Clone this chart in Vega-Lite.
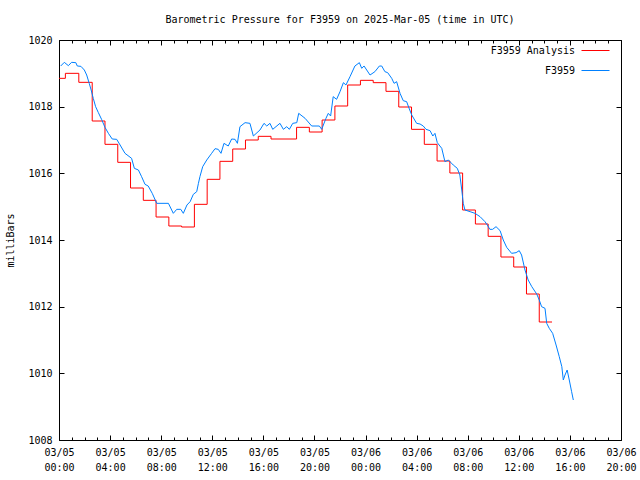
{
 "$schema": "https://vega.github.io/schema/vega-lite/v6.json",
 "width": 562,
 "height": 400,
 "autosize": {"type": "none"},
 "padding": {"left": 59, "top": 40, "right": 19, "bottom": 40},
 "background": "white",
 "title": {"text": "Barometric Pressure for F3959 on 2025-Mar-05 (time in UTC)", "font": "DejaVu Sans Mono", "fontSize": 10, "fontWeight": "normal", "color": "black", "anchor": "middle", "baseline": "bottom", "offset": 0},
 "config": {"view": {"stroke": "black", "strokeWidth": 1}, "font": "DejaVu Sans Mono"},
 "datasets": {
  "analysis": [
   {"t": "2025-03-05T00:00:00Z", "mb": 1018.85},
   {"t": "2025-03-05T00:30:00Z", "mb": 1019.0},
   {"t": "2025-03-05T01:33:00Z", "mb": 1018.73},
   {"t": "2025-03-05T02:36:00Z", "mb": 1017.57},
   {"t": "2025-03-05T03:36:00Z", "mb": 1016.87},
   {"t": "2025-03-05T04:36:00Z", "mb": 1016.33},
   {"t": "2025-03-05T05:36:00Z", "mb": 1015.56},
   {"t": "2025-03-05T06:36:00Z", "mb": 1015.19},
   {"t": "2025-03-05T07:36:00Z", "mb": 1014.69},
   {"t": "2025-03-05T08:36:00Z", "mb": 1014.42},
   {"t": "2025-03-05T09:36:00Z", "mb": 1014.39},
   {"t": "2025-03-05T10:36:00Z", "mb": 1015.07},
   {"t": "2025-03-05T11:36:00Z", "mb": 1015.82},
   {"t": "2025-03-05T12:36:00Z", "mb": 1016.36},
   {"t": "2025-03-05T13:36:00Z", "mb": 1016.73},
   {"t": "2025-03-05T14:36:00Z", "mb": 1017.0},
   {"t": "2025-03-05T15:36:00Z", "mb": 1017.11},
   {"t": "2025-03-05T16:36:00Z", "mb": 1017.03},
   {"t": "2025-03-05T18:36:00Z", "mb": 1017.38},
   {"t": "2025-03-05T19:36:00Z", "mb": 1017.24},
   {"t": "2025-03-05T20:36:00Z", "mb": 1017.6},
   {"t": "2025-03-05T21:36:00Z", "mb": 1018.02},
   {"t": "2025-03-05T22:36:00Z", "mb": 1018.65},
   {"t": "2025-03-05T23:36:00Z", "mb": 1018.79},
   {"t": "2025-03-06T00:36:00Z", "mb": 1018.72},
   {"t": "2025-03-06T01:36:00Z", "mb": 1018.46},
   {"t": "2025-03-06T02:36:00Z", "mb": 1017.99},
   {"t": "2025-03-06T03:36:00Z", "mb": 1017.32},
   {"t": "2025-03-06T04:36:00Z", "mb": 1016.87},
   {"t": "2025-03-06T05:36:00Z", "mb": 1016.37},
   {"t": "2025-03-06T06:36:00Z", "mb": 1016.01},
   {"t": "2025-03-06T07:36:00Z", "mb": 1014.9},
   {"t": "2025-03-06T08:36:00Z", "mb": 1014.48},
   {"t": "2025-03-06T09:36:00Z", "mb": 1014.11},
   {"t": "2025-03-06T10:36:00Z", "mb": 1013.49},
   {"t": "2025-03-06T11:36:00Z", "mb": 1013.19},
   {"t": "2025-03-06T12:36:00Z", "mb": 1012.38},
   {"t": "2025-03-06T13:36:00Z", "mb": 1011.54},
   {"t": "2025-03-06T14:36:00Z", "mb": 1011.54}
  ],
  "obs": [
   {"t": "2025-03-05T00:08:00Z", "mb": 1019.22},
   {"t": "2025-03-05T00:25:00Z", "mb": 1019.33},
   {"t": "2025-03-05T00:44:00Z", "mb": 1019.23},
   {"t": "2025-03-05T00:59:00Z", "mb": 1019.33},
   {"t": "2025-03-05T01:19:00Z", "mb": 1019.32},
   {"t": "2025-03-05T01:26:00Z", "mb": 1019.22},
   {"t": "2025-03-05T01:43:00Z", "mb": 1019.21},
   {"t": "2025-03-05T01:59:00Z", "mb": 1019.1},
   {"t": "2025-03-05T02:10:00Z", "mb": 1018.95},
   {"t": "2025-03-05T02:22:00Z", "mb": 1018.7},
   {"t": "2025-03-05T02:31:00Z", "mb": 1018.5},
   {"t": "2025-03-05T02:41:00Z", "mb": 1018.25},
   {"t": "2025-03-05T02:52:00Z", "mb": 1018.0},
   {"t": "2025-03-05T03:05:00Z", "mb": 1017.82},
   {"t": "2025-03-05T03:20:00Z", "mb": 1017.62},
   {"t": "2025-03-05T03:36:00Z", "mb": 1017.38},
   {"t": "2025-03-05T03:52:00Z", "mb": 1017.2},
   {"t": "2025-03-05T04:10:00Z", "mb": 1017.03},
   {"t": "2025-03-05T04:31:00Z", "mb": 1017.02},
   {"t": "2025-03-05T04:47:00Z", "mb": 1016.85},
   {"t": "2025-03-05T05:10:00Z", "mb": 1016.6},
   {"t": "2025-03-05T05:41:00Z", "mb": 1016.45},
   {"t": "2025-03-05T05:54:00Z", "mb": 1016.15},
   {"t": "2025-03-05T06:13:00Z", "mb": 1016.1},
   {"t": "2025-03-05T06:28:00Z", "mb": 1015.9},
   {"t": "2025-03-05T06:44:00Z", "mb": 1015.67},
   {"t": "2025-03-05T06:59:00Z", "mb": 1015.62},
   {"t": "2025-03-05T07:18:00Z", "mb": 1015.4},
   {"t": "2025-03-05T07:39:00Z", "mb": 1015.1},
   {"t": "2025-03-05T08:34:00Z", "mb": 1015.1},
   {"t": "2025-03-05T08:57:00Z", "mb": 1014.8},
   {"t": "2025-03-05T09:13:00Z", "mb": 1014.92},
   {"t": "2025-03-05T09:32:00Z", "mb": 1014.92},
   {"t": "2025-03-05T09:44:00Z", "mb": 1014.8},
   {"t": "2025-03-05T10:01:00Z", "mb": 1015.05},
   {"t": "2025-03-05T10:16:00Z", "mb": 1015.15},
   {"t": "2025-03-05T10:31:00Z", "mb": 1015.37},
   {"t": "2025-03-05T10:47:00Z", "mb": 1015.45},
   {"t": "2025-03-05T10:55:00Z", "mb": 1015.7},
   {"t": "2025-03-05T11:02:00Z", "mb": 1015.9},
   {"t": "2025-03-05T11:15:00Z", "mb": 1016.2},
   {"t": "2025-03-05T11:34:00Z", "mb": 1016.4},
   {"t": "2025-03-05T11:57:00Z", "mb": 1016.6},
   {"t": "2025-03-05T12:13:00Z", "mb": 1016.74},
   {"t": "2025-03-05T12:28:00Z", "mb": 1016.72},
   {"t": "2025-03-05T12:41:00Z", "mb": 1016.6},
   {"t": "2025-03-05T12:55:00Z", "mb": 1016.9},
   {"t": "2025-03-05T13:15:00Z", "mb": 1016.82},
   {"t": "2025-03-05T13:31:00Z", "mb": 1017.03},
   {"t": "2025-03-05T13:47:00Z", "mb": 1017.02},
   {"t": "2025-03-05T13:58:00Z", "mb": 1016.9},
   {"t": "2025-03-05T14:10:00Z", "mb": 1017.4},
   {"t": "2025-03-05T14:34:00Z", "mb": 1017.52},
   {"t": "2025-03-05T14:57:00Z", "mb": 1017.5},
   {"t": "2025-03-05T15:13:00Z", "mb": 1017.12},
   {"t": "2025-03-05T15:44:00Z", "mb": 1017.3},
   {"t": "2025-03-05T16:03:00Z", "mb": 1017.5},
   {"t": "2025-03-05T16:16:00Z", "mb": 1017.42},
   {"t": "2025-03-05T16:31:00Z", "mb": 1017.5},
   {"t": "2025-03-05T16:44:00Z", "mb": 1017.32},
   {"t": "2025-03-05T17:18:00Z", "mb": 1017.5},
   {"t": "2025-03-05T17:34:00Z", "mb": 1017.32},
   {"t": "2025-03-05T17:50:00Z", "mb": 1017.4},
   {"t": "2025-03-05T18:02:00Z", "mb": 1017.32},
   {"t": "2025-03-05T18:18:00Z", "mb": 1017.5},
   {"t": "2025-03-05T18:37:00Z", "mb": 1017.52},
   {"t": "2025-03-05T18:46:00Z", "mb": 1017.8},
   {"t": "2025-03-05T19:16:00Z", "mb": 1017.65},
   {"t": "2025-03-05T19:47:00Z", "mb": 1017.42},
   {"t": "2025-03-05T20:23:00Z", "mb": 1017.42},
   {"t": "2025-03-05T20:34:00Z", "mb": 1017.32},
   {"t": "2025-03-05T20:54:00Z", "mb": 1017.65},
   {"t": "2025-03-05T21:05:00Z", "mb": 1017.8},
   {"t": "2025-03-05T21:16:00Z", "mb": 1017.72},
   {"t": "2025-03-05T21:28:00Z", "mb": 1018.3},
   {"t": "2025-03-05T21:44:00Z", "mb": 1018.22},
   {"t": "2025-03-05T22:00:00Z", "mb": 1018.45},
   {"t": "2025-03-05T22:16:00Z", "mb": 1018.72},
   {"t": "2025-03-05T22:28:00Z", "mb": 1018.65},
   {"t": "2025-03-05T22:47:00Z", "mb": 1018.9},
   {"t": "2025-03-05T23:10:00Z", "mb": 1019.22},
   {"t": "2025-03-05T23:31:00Z", "mb": 1019.32},
   {"t": "2025-03-05T23:42:00Z", "mb": 1019.15},
   {"t": "2025-03-05T23:53:00Z", "mb": 1019.22},
   {"t": "2025-03-06T00:21:00Z", "mb": 1018.95},
   {"t": "2025-03-06T00:44:00Z", "mb": 1019.05},
   {"t": "2025-03-06T01:05:00Z", "mb": 1019.22},
   {"t": "2025-03-06T01:16:00Z", "mb": 1019.22},
   {"t": "2025-03-06T01:31:00Z", "mb": 1019.05},
   {"t": "2025-03-06T01:44:00Z", "mb": 1019.02},
   {"t": "2025-03-06T02:03:00Z", "mb": 1018.85},
   {"t": "2025-03-06T02:14:00Z", "mb": 1018.7},
   {"t": "2025-03-06T02:26:00Z", "mb": 1018.75},
   {"t": "2025-03-06T02:42:00Z", "mb": 1018.4},
   {"t": "2025-03-06T02:57:00Z", "mb": 1018.18},
   {"t": "2025-03-06T03:13:00Z", "mb": 1018.15},
   {"t": "2025-03-06T03:24:00Z", "mb": 1017.96},
   {"t": "2025-03-06T03:37:00Z", "mb": 1017.75},
   {"t": "2025-03-06T04:00:00Z", "mb": 1017.5},
   {"t": "2025-03-06T04:16:00Z", "mb": 1017.48},
   {"t": "2025-03-06T04:31:00Z", "mb": 1017.42},
   {"t": "2025-03-06T04:44:00Z", "mb": 1017.32},
   {"t": "2025-03-06T05:03:00Z", "mb": 1017.28},
   {"t": "2025-03-06T05:16:00Z", "mb": 1017.12},
   {"t": "2025-03-06T05:26:00Z", "mb": 1017.2},
   {"t": "2025-03-06T05:37:00Z", "mb": 1016.92},
   {"t": "2025-03-06T05:58:00Z", "mb": 1016.75},
   {"t": "2025-03-06T06:13:00Z", "mb": 1016.35},
   {"t": "2025-03-06T06:29:00Z", "mb": 1016.4},
   {"t": "2025-03-06T06:52:00Z", "mb": 1016.25},
   {"t": "2025-03-06T07:11:00Z", "mb": 1016.15},
   {"t": "2025-03-06T07:23:00Z", "mb": 1015.95},
   {"t": "2025-03-06T07:32:00Z", "mb": 1015.5},
   {"t": "2025-03-06T07:39:00Z", "mb": 1015.1},
   {"t": "2025-03-06T07:47:00Z", "mb": 1014.9},
   {"t": "2025-03-06T08:11:00Z", "mb": 1014.85},
   {"t": "2025-03-06T08:34:00Z", "mb": 1014.8},
   {"t": "2025-03-06T08:58:00Z", "mb": 1014.7},
   {"t": "2025-03-06T09:21:00Z", "mb": 1014.55},
   {"t": "2025-03-06T09:32:00Z", "mb": 1014.45},
   {"t": "2025-03-06T09:44:00Z", "mb": 1014.32},
   {"t": "2025-03-06T09:57:00Z", "mb": 1014.32},
   {"t": "2025-03-06T10:13:00Z", "mb": 1014.4},
   {"t": "2025-03-06T10:32:00Z", "mb": 1014.28},
   {"t": "2025-03-06T10:47:00Z", "mb": 1014.0},
   {"t": "2025-03-06T11:03:00Z", "mb": 1013.78},
   {"t": "2025-03-06T11:26:00Z", "mb": 1013.6},
   {"t": "2025-03-06T11:47:00Z", "mb": 1013.62},
   {"t": "2025-03-06T12:02:00Z", "mb": 1013.68},
   {"t": "2025-03-06T12:13:00Z", "mb": 1013.55},
   {"t": "2025-03-06T12:29:00Z", "mb": 1013.1},
   {"t": "2025-03-06T12:44:00Z", "mb": 1012.8},
   {"t": "2025-03-06T13:01:00Z", "mb": 1012.6},
   {"t": "2025-03-06T13:24:00Z", "mb": 1012.38},
   {"t": "2025-03-06T13:36:00Z", "mb": 1012.2},
   {"t": "2025-03-06T13:47:00Z", "mb": 1012.0},
   {"t": "2025-03-06T14:03:00Z", "mb": 1011.95},
   {"t": "2025-03-06T14:11:00Z", "mb": 1011.5},
   {"t": "2025-03-06T14:23:00Z", "mb": 1011.35},
   {"t": "2025-03-06T14:39:00Z", "mb": 1011.2},
   {"t": "2025-03-06T14:55:00Z", "mb": 1010.85},
   {"t": "2025-03-06T15:10:00Z", "mb": 1010.5},
   {"t": "2025-03-06T15:22:00Z", "mb": 1010.2},
   {"t": "2025-03-06T15:29:00Z", "mb": 1009.8},
   {"t": "2025-03-06T15:37:00Z", "mb": 1009.95},
   {"t": "2025-03-06T15:47:00Z", "mb": 1010.1},
   {"t": "2025-03-06T15:57:00Z", "mb": 1009.8},
   {"t": "2025-03-06T16:08:00Z", "mb": 1009.45},
   {"t": "2025-03-06T16:16:00Z", "mb": 1009.2}
  ]
 },
 "layer": [
  {
   "data": {"name": "analysis"},
   "mark": {"type": "line", "interpolate": "step-after", "strokeWidth": 1},
   "encoding": {
    "x": {"field": "t", "type": "temporal",
     "scale": {"type": "utc", "domain": [1741132800000, 1741291200000]},
     "axis": {"orient": "bottom", "title": null, "domain": false, "grid": false,
      "values": [1741132800000, 1741147200000, 1741161600000, 1741176000000, 1741190400000, 1741204800000, 1741219200000, 1741233600000, 1741248000000, 1741262400000, 1741276800000, 1741291200000],
      "tickSize": -5, "tickColor": "black", "tickWidth": 1,
      "labelExpr": "[utcFormat(datum.value, '%m/%d'), utcFormat(datum.value, '%H:%M')]",
      "labelOverlap": false, "labelFlush": false,
      "labelFont": "DejaVu Sans Mono", "labelFontSize": 10, "labelColor": "black",
      "labelLineHeight": 15, "labelBaseline": "top", "labelPadding": 12}},
    "y": {"field": "mb", "type": "quantitative",
     "scale": {"domain": [1008, 1020], "nice": false, "zero": false},
     "axis": {"orient": "left", "title": "milliBars", "domain": false, "grid": false,
      "values": [1008, 1010, 1012, 1014, 1016, 1018, 1020], "format": "d",
      "tickSize": -5, "tickColor": "black",
      "labelFont": "DejaVu Sans Mono", "labelFontSize": 10, "labelColor": "black", "labelPadding": 12,
      "titleFont": "DejaVu Sans Mono", "titleFontSize": 10, "titleFontWeight": "normal", "titleColor": "black", "titlePadding": 12}},
    "color": {"datum": "F3959 Analysis", "type": "nominal",
     "scale": {"domain": ["F3959 Analysis", "F3959"], "range": ["#ff0000", "#0080ff"]},
     "legend": {"title": null, "orient": "none", "legendX": 522, "legendY": -4,
      "symbolType": "stroke", "symbolSize": 784, "symbolStrokeWidth": 1,
      "labelAlign": "right", "labelOffset": -35,
      "labelFont": "DejaVu Sans Mono", "labelFontSize": 10, "labelColor": "black",
      "rowPadding": -25, "padding": 0}}
   }
  },
  {
   "data": {"name": "obs"},
   "mark": {"type": "line", "strokeWidth": 1},
   "encoding": {
    "x": {"field": "t", "type": "temporal",
     "axis": {"orient": "top", "title": null, "domain": false, "grid": false, "labels": false,
      "values": [1741132800000, 1741147200000, 1741161600000, 1741176000000, 1741190400000, 1741204800000, 1741219200000, 1741233600000, 1741248000000, 1741262400000, 1741276800000, 1741291200000],
      "tickSize": -5, "tickColor": "black", "tickWidth": 1}},
    "y": {"field": "mb", "type": "quantitative",
     "axis": {"orient": "right", "title": null, "domain": false, "grid": false, "labels": false,
      "values": [1008, 1010, 1012, 1014, 1016, 1018, 1020],
      "tickSize": -5, "tickColor": "black"}},
    "color": {"datum": "F3959", "type": "nominal"}
   }
  },
  {
   "data": {"name": "analysis"},
   "mark": {"type": "line", "strokeOpacity": 0},
   "encoding": {
    "x": {"field": "t", "type": "temporal",
     "axis": {"orient": "bottom", "title": null, "domain": false, "grid": false, "labels": false,
      "values": [1741132800000, 1741136400000, 1741140000000, 1741143600000, 1741147200000, 1741150800000, 1741154400000, 1741158000000, 1741161600000, 1741165200000, 1741168800000, 1741172400000, 1741176000000, 1741179600000, 1741183200000, 1741186800000, 1741190400000, 1741194000000, 1741197600000, 1741201200000, 1741204800000, 1741208400000, 1741212000000, 1741215600000, 1741219200000, 1741222800000, 1741226400000, 1741230000000, 1741233600000, 1741237200000, 1741240800000, 1741244400000, 1741248000000, 1741251600000, 1741255200000, 1741258800000, 1741262400000, 1741266000000, 1741269600000, 1741273200000, 1741276800000, 1741280400000, 1741284000000, 1741287600000, 1741291200000],
      "tickSize": -3, "tickColor": "black", "tickWidth": 1}},
    "y": {"field": "mb", "type": "quantitative", "axis": null}
   }
  },
  {
   "data": {"name": "analysis"},
   "mark": {"type": "line", "strokeOpacity": 0},
   "encoding": {
    "x": {"field": "t", "type": "temporal",
     "axis": {"orient": "top", "title": null, "domain": false, "grid": false, "labels": false,
      "values": [1741132800000, 1741136400000, 1741140000000, 1741143600000, 1741147200000, 1741150800000, 1741154400000, 1741158000000, 1741161600000, 1741165200000, 1741168800000, 1741172400000, 1741176000000, 1741179600000, 1741183200000, 1741186800000, 1741190400000, 1741194000000, 1741197600000, 1741201200000, 1741204800000, 1741208400000, 1741212000000, 1741215600000, 1741219200000, 1741222800000, 1741226400000, 1741230000000, 1741233600000, 1741237200000, 1741240800000, 1741244400000, 1741248000000, 1741251600000, 1741255200000, 1741258800000, 1741262400000, 1741266000000, 1741269600000, 1741273200000, 1741276800000, 1741280400000, 1741284000000, 1741287600000, 1741291200000],
      "tickSize": -3, "tickColor": "black", "tickWidth": 1}},
    "y": {"field": "mb", "type": "quantitative", "axis": null}
   }
  }
 ],
 "resolve": {"axis": {"x": "independent", "y": "independent"}}
}
